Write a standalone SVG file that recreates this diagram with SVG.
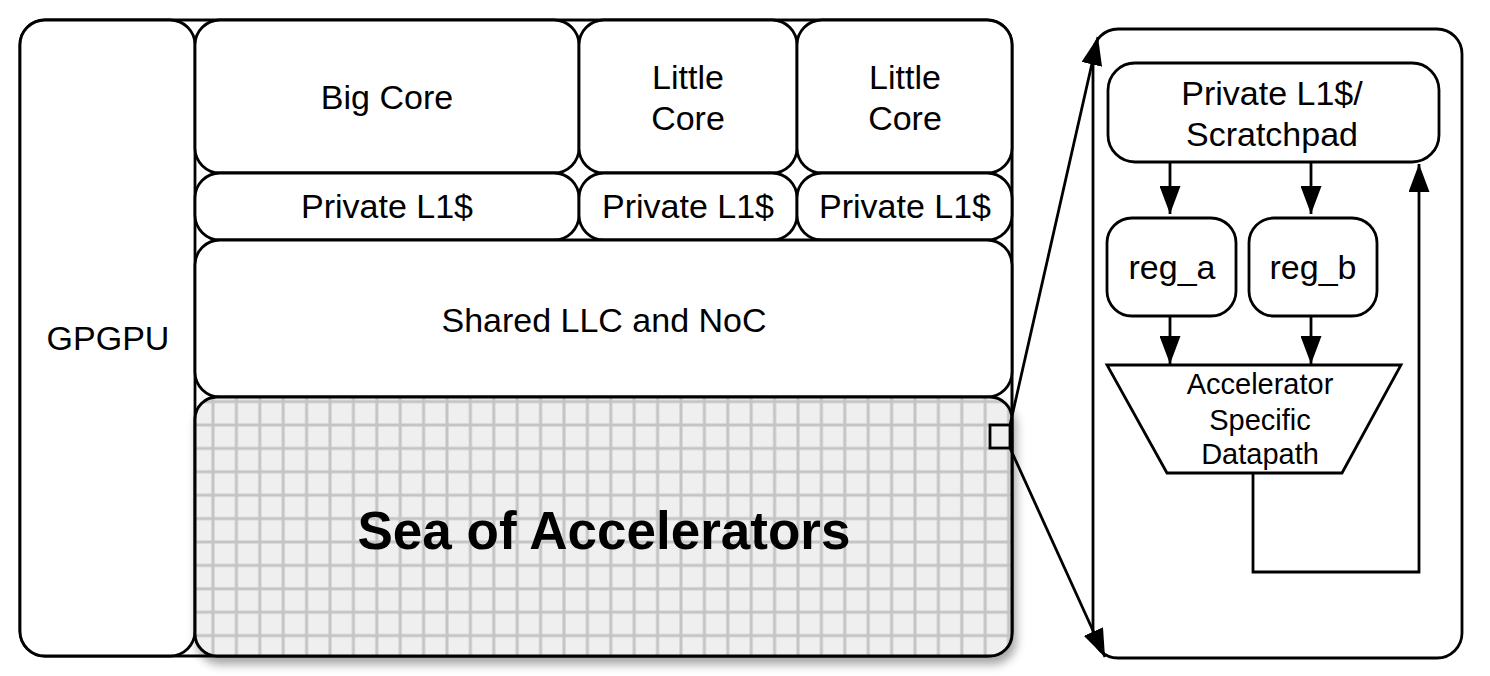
<svg xmlns="http://www.w3.org/2000/svg" width="1490" height="676" viewBox="0 0 1490 676">
<style>
.box{fill:#fff;stroke:#000;stroke-width:2.8}
.t{font-family:"Liberation Sans",Arial,sans-serif;font-size:34px;fill:#000;text-anchor:middle}
.ts{font-size:29px}
.tb{font-weight:bold;font-size:53px}
.ln{fill:none;stroke:#000;stroke-width:2.8}
</style>
<defs>
<marker id="ah" markerWidth="28" markerHeight="21" refX="28" refY="10.5" orient="auto" markerUnits="userSpaceOnUse" viewBox="0 0 28 21">
<path d="M0,0 L28,10.5 L0,21 Z" fill="#000"/>
</marker>
<pattern id="grid" patternUnits="userSpaceOnUse" x="201.3" y="389.9" width="23.4" height="23.4">
<rect width="23.4" height="23.4" fill="#efefef"/>
<path d="M11.7,0 V23.4 M0,11.7 H23.4" stroke="#c4c4c4" stroke-width="3"/>
</pattern>
<filter id="sh" x="-5%" y="-10%" width="115%" height="130%">
<feDropShadow dx="3" dy="7" stdDeviation="5" flood-color="#000" flood-opacity="0.35"/>
</filter>
</defs>
<rect x="20" y="20" width="992" height="636" rx="25" fill="#fff" stroke="#000" stroke-width="3"/>
<g id="gpgpu"><rect class="box" x="20" y="20" width="175" height="636" rx="25"/><text class="t" x="108" y="350">GPGPU</text></g>
<g id="bigcore"><rect class="box" x="195" y="20" width="384" height="153" rx="25"/><text class="t" x="387" y="109">Big Core</text></g>
<g id="little1"><rect class="box" x="579" y="20" width="218" height="153" rx="25"/><text class="t" x="688" y="89">Little</text><text class="t" x="688" y="130">Core</text></g>
<g id="little2"><rect class="box" x="797" y="20" width="215" height="153" rx="25"/><text class="t" x="905" y="89">Little</text><text class="t" x="905" y="130">Core</text></g>
<g id="l1big"><rect class="box" x="195" y="173" width="384" height="67" rx="25"/><text class="t" x="387" y="218">Private L1$</text></g>
<g id="l1little1"><rect class="box" x="579" y="173" width="218" height="67" rx="25"/><text class="t" x="688" y="218">Private L1$</text></g>
<g id="l1little2"><rect class="box" x="797" y="173" width="215" height="67" rx="25"/><text class="t" x="905" y="218">Private L1$</text></g>
<g id="llc"><rect class="box" x="195" y="240" width="817" height="157" rx="25"/><text class="t" x="604" y="332">Shared LLC and NoC</text></g>
<g id="sea"><rect x="195" y="397" width="817" height="259" rx="22" fill="url(#grid)" stroke="#000" stroke-width="3" filter="url(#sh)"/><text class="t tb" x="604" y="549">Sea of Accelerators</text>
<rect x="990" y="425" width="20" height="23" fill="#efefef" stroke="#000" stroke-width="2.8"/></g>
<g id="panel"><rect x="1093" y="29" width="369" height="629" rx="25" fill="#fff" stroke="#000" stroke-width="2.8"/></g>
<g id="scratch"><rect class="box" x="1108" y="63" width="331" height="99" rx="27"/><text class="t" x="1272" y="105">Private L1$/</text><text class="t" x="1272" y="146">Scratchpad</text></g>
<g id="rega"><rect class="box" x="1107" y="218" width="129" height="98" rx="25"/><text class="t" x="1172" y="279">reg_a</text></g>
<g id="regb"><rect class="box" x="1249" y="218" width="128" height="98" rx="25"/><text class="t" x="1313" y="279">reg_b</text></g>
<g id="datapath"><path d="M1107,365 L1401,365 L1342,473 L1167,473 Z" fill="#fff" stroke="#000" stroke-width="2.8"/><text class="t ts" x="1260" y="394">Accelerator</text><text class="t ts" x="1260" y="430">Specific</text><text class="t ts" x="1260" y="464">Datapath</text></g>
<g id="connectors">
<line class="ln" x1="1010" y1="425" x2="1098" y2="37" marker-end="url(#ah)"/>
<line class="ln" x1="1010" y1="448" x2="1105" y2="657" marker-end="url(#ah)"/>
<line class="ln" x1="1170" y1="162" x2="1170" y2="214" marker-end="url(#ah)"/>
<line class="ln" x1="1311" y1="162" x2="1311" y2="214" marker-end="url(#ah)"/>
<line class="ln" x1="1170" y1="316" x2="1170" y2="364" marker-end="url(#ah)"/>
<line class="ln" x1="1311" y1="316" x2="1311" y2="364" marker-end="url(#ah)"/>
<path class="ln" d="M1253,473 V572 H1419 V164" marker-end="url(#ah)"/>
</g>
</svg>
